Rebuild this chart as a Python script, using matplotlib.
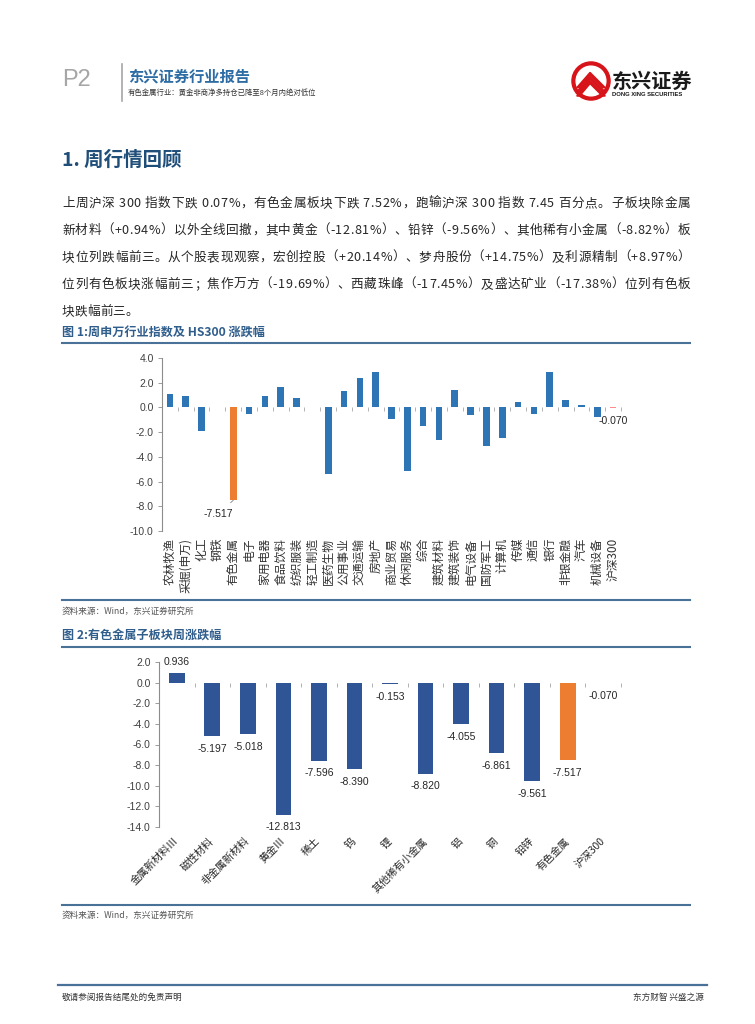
import matplotlib
matplotlib.use('Agg')
import matplotlib.pyplot as plt
import numpy as np
from matplotlib.lines import Line2D
from matplotlib.patches import Circle, Polygon
from matplotlib import font_manager
from matplotlib.ticker import FormatStrFormatter

CJK = ['Noto Sans CJK SC', 'DejaVu Sans']
NUM = ['Liberation Sans', 'Noto Sans CJK SC']
plt.rcParams['font.family'] = CJK
plt.rcParams['axes.unicode_minus'] = False

# ---------------- data ----------------
industries = ['农林牧渔', '采掘(申万)', '化工', '钢铁', '有色金属', '电子', '家用电器', '食品饮料',
              '纺织服装', '轻工制造', '医药生物', '公用事业', '交通运输', '房地产', '商业贸易',
              '休闲服务', '综合', '建筑材料', '建筑装饰', '电气设备', '国防军工', '计算机', '传媒',
              '通信', '银行', '非银金融', '汽车', '机械设备', '沪深300']
industry_chg = [1.05, 0.90, -1.90, 0.06, -7.517, -0.50, 0.90, 1.62, 0.78, 0.05, -5.40, 1.32,
                2.36, 2.85, -0.90, -5.15, -1.50, -2.62, 1.40, -0.58, -3.10, -2.50, 0.45, -0.55,
                2.87, 0.60, 0.20, -0.75, -0.070]

sub_sectors = ['金属新材料Ⅲ', '磁性材料', '非金属新材料', '黄金Ⅲ', '稀土', '钨', '锂',
               '其他稀有小金属', '铝', '铜', '铅锌', '有色金属', '沪深300']
sub_chg = [0.936, -5.197, -5.018, -12.813, -7.596, -8.390, -0.153, -8.820, -4.055, -6.861,
           -9.561, -7.517, -0.070]

y1_ticks = [-10, -8, -6, -4, -2, 0, 2, 4]
y2_ticks = [-14, -12, -10, -8, -6, -4, -2, 0, 2]

body_lines = [
    '上周沪深 300 指数下跌 0.07%，有色金属板块下跌 7.52%，跑输沪深 300 指数 7.45 百分点。子板块除金属',
    '新材料（+0.94%）以外全线回撤，其中黄金（-12.81%）、铅锌（-9.56%）、其他稀有小金属（-8.82%）板',
    '块位列跌幅前三。从个股表现观察，宏创控股（+20.14%）、梦舟股份（+14.75%）及利源精制（+8.97%）',
    '位列有色板块涨幅前三；焦作万方（-19.69%）、西藏珠峰（-17.45%）及盛达矿业（-17.38%）位列有色板',
    '块跌幅前三。',
]

# ---------------- figure ----------------
W, H = 755, 1024
fig = plt.figure(figsize=(W / 100, H / 100), dpi=100)
fig.patch.set_facecolor('white')


def fx(x):
    return x / W


def fy(y):
    return 1 - y / H


def ftext(x, y, s, **kw):
    return fig.text(fx(x), fy(y), s, **kw)


def hline(x0, x1, y, color='#4A7298', lw=1.5):
    fig.add_artist(Line2D([fx(x0), fx(x1)], [fy(y), fy(y)], color=color, lw=lw,
                          transform=fig.transFigure))


def vline(x, y0, y1, color, lw):
    fig.add_artist(Line2D([fx(x), fx(x)], [fy(y0), fy(y1)], color=color, lw=lw,
                          transform=fig.transFigure))


# ---------------- header ----------------
ftext(62, 80, 'P2', fontsize=17, color='#A6A6A6', va='center', ha='left', family=NUM)
vline(122, 64, 101, '#A6A6A6', 1.2)
ftext(128, 77, '东兴证券行业报告', fontsize=11, weight='bold', color='#2E6DA4', va='center')
ftext(128, 93, '有色金属行业：黄金非商净多持仓已降至8个月内绝对低位', fontsize=5.3,
      color='#333333', va='center')

# logo
lax = fig.add_axes([fx(571), fy(101), 40 / W, 40 / H])
lax.set_xlim(-1.05, 1.05)
lax.set_ylim(-1.05, 1.05)
lax.set_aspect('equal')
lax.axis('off')
lax.add_patch(Circle((0, 0), 1.0, color='#D7141A'))
lax.add_patch(Circle((0, 0), 0.78, color='white'))
for k in range(3):
    off = k * 0.22
    lax.add_patch(Polygon([(-0.75, -0.35 - off), (-0.05, 0.45 - off), (0.75, -0.35 - off),
                           (0.6, -0.35 - off), (-0.05, 0.3 - off), (-0.6, -0.35 - off)],
                          closed=True, color='#D7141A'))
ftext(612, 81, '东兴证券', fontsize=14.5, weight='bold', color='#1A1A1A', va='center')
ftext(612, 95, 'DONG XING SECURITIES', fontsize=4.2, weight='bold', color='#1A1A1A',
      va='center', family=NUM)

# ---------------- section title & body ----------------
ftext(62, 160, '1. 周行情回顾', fontsize=14, weight='bold', color='#1F4E79', va='center')

BODY_FS = 9.1
try:
    from matplotlib.ft2font import FT2Font
    _fpath = font_manager.findfont(font_manager.FontProperties(family='Noto Sans CJK SC'))
    _ft = FT2Font(_fpath)
    _ft.set_size(BODY_FS, 100)

    def advance(c):
        g = _ft.load_char(ord(c))
        return g.linearHoriAdvance / 65536.0
except Exception:
    def advance(c):
        em = BODY_FS * 100 / 72
        return em * (0.55 if ord(c) < 128 else 1.0)

x_left, x_right = 62, 690
for i, line in enumerate(body_lines):
    base_y = 207 + i * 27
    advs = [advance(c) for c in line]
    natural = sum(advs)
    justify = i < len(body_lines) - 1
    gap = (x_right - x_left - natural) / (len(line) - 1) if justify else 0.0
    pen = x_left
    for c, a in zip(line, advs):
        if c != ' ':
            ftext(pen, base_y, c, fontsize=BODY_FS, color='#262626', ha='left', va='baseline')
        pen += a + gap

# ---------------- common styling ----------------
def style_axes(ax, n, yticks):
    for s in ['top', 'right', 'bottom']:
        ax.spines[s].set_visible(False)
    ax.spines['left'].set_color('#8C8C8C')
    ax.spines['left'].set_linewidth(0.8)
    ax.set_yticks(yticks)
    ax.set_ylim(min(yticks), max(yticks))
    ax.yaxis.set_major_formatter(FormatStrFormatter('%.1f'))
    ax.tick_params(axis='y', length=3, width=0.6, color='#8C8C8C', labelsize=7.5,
                   labelcolor='#404040', pad=3)
    for t in ax.get_yticklabels():
        t.set_family(NUM)
    ax.set_xlim(-0.5, n - 0.5)
    sec = ax.secondary_xaxis(0, transform=ax.transData)
    sec.set_xticks(np.arange(n + 1) - 0.5)
    sec.tick_params(axis='x', length=3, width=0.6, color='#A6A6A6', labelbottom=False,
                    direction='out')
    sec.spines['bottom'].set_visible(False)


# ---------------- chart 1 ----------------
ftext(62, 333, '图 1:周申万行业指数及 HS300 涨跌幅', fontsize=8.7, weight='bold',
      color='#2F5D8C', va='center')
hline(62, 690, 343)

ax1 = fig.add_axes([fx(162), fy(531), (621 - 162) / W, (531 - 358) / H])
n1 = len(industries)
c1 = ['#ED7D31' if c == '有色金属' else ('#FF8C8C' if c == '沪深300' else '#2E75B6')
      for c in industries]
ax1.bar(np.arange(n1), industry_chg, width=0.42, color=c1, zorder=3)
style_axes(ax1, n1, y1_ticks)
ax1.set_xticks(np.arange(n1))
ax1.set_xticklabels(industries, rotation=90, fontsize=8.5, color='#333333')
ax1.tick_params(axis='x', length=0, pad=5)

i_ys = industries.index('有色金属')
ax1.annotate(f'{industry_chg[i_ys]:.3f}', (i_ys, industry_chg[i_ys]), xytext=(-11, -10),
             textcoords='offset points', ha='center', va='center', fontsize=7.5,
             family=NUM, color='#262626',
             arrowprops=dict(arrowstyle='-', color='#7F7F7F', lw=0.6, shrinkA=4, shrinkB=0))
i_hs = industries.index('沪深300')
ax1.annotate(f'{industry_chg[i_hs]:.3f}', (i_hs, industry_chg[i_hs]), xytext=(0, -9),
             textcoords='offset points', ha='center', va='center', fontsize=7.5,
             family=NUM, color='#262626')

hline(62, 690, 600)
ftext(62, 611, '资料来源：Wind，东兴证券研究所', fontsize=6.2, color='#555555', va='center',
      style='italic')

# ---------------- chart 2 ----------------
ftext(62, 636, '图 2:有色金属子板块周涨跌幅', fontsize=8.7, weight='bold', color='#2F5D8C',
      va='center')
hline(62, 690, 647)

ax2 = fig.add_axes([fx(159), fy(827), (621 - 159) / W, (827 - 662) / H])
n2 = len(sub_sectors)
c2 = ['#ED7D31' if c == '有色金属' else ('#FF0000' if c == '沪深300' else '#2F5597')
      for c in sub_sectors]
ax2.bar(np.arange(n2), sub_chg, width=0.44, color=c2, zorder=3)
style_axes(ax2, n2, y2_ticks)
ax2.set_xticks(np.arange(n2))
ax2.set_xticklabels(sub_sectors, rotation=45, ha='right', va='center',
                    rotation_mode='anchor', fontsize=7.5, color='#262626')
ax2.tick_params(axis='x', length=0, pad=9)
for i, v in enumerate(sub_chg):
    ax2.annotate(f'{v:.3f}', (i, v), xytext=(0, -9 if v < 0 else 8),
                 textcoords='offset points', ha='center', va='center', fontsize=7.5,
                 family=NUM, color='#262626')

hline(62, 690, 905)
ftext(62, 915, '资料来源：Wind，东兴证券研究所', fontsize=6.2, color='#555555', va='center',
      style='italic')

# ---------------- footer ----------------
hline(58, 707, 985, lw=1.6)
ftext(62, 997, '敬请参阅报告结尾处的免责声明', fontsize=6.2, color='#333333', va='center')
ftext(704, 997, '东方财智 兴盛之源', fontsize=6.2, color='#333333', va='center', ha='right')

fig.savefig('out.png', dpi=100, facecolor='white')
